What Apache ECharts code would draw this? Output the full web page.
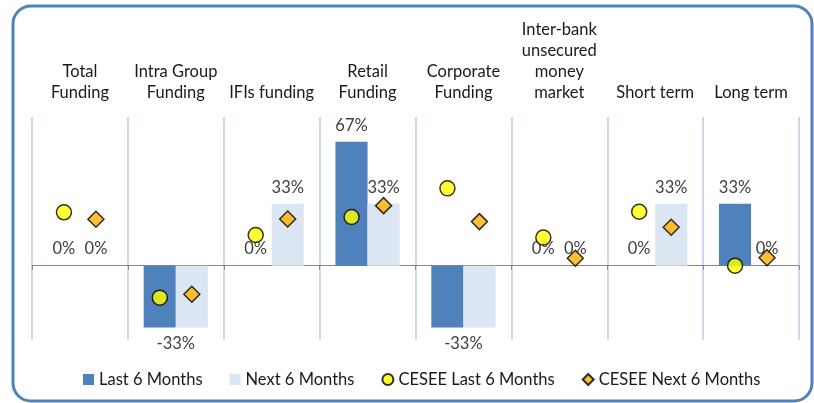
<!DOCTYPE html>
<html>
<head>
<meta charset="utf-8">
<script src="https://cdn.jsdelivr.net/npm/echarts@6/dist/echarts.min.js"></script>
<style>
  html, body { margin: 0; padding: 0; background: #fff; }
  #chart { width: 814px; height: 403px; }
</style>
</head>
<body>
<div id="chart"></div>
<script>
const categories = ['Total\nFunding', 'Intra Group\nFunding', 'IFIs funding', 'Retail\nFunding',
  'Corporate\nFunding', 'Inter-bank\nunsecured\nmoney\nmarket', 'Short term', 'Long term'];
const last6 = [0, -33.33, 0, 66.67, -33.33, 0, 0, 33.33];
const next6 = [0, -33.33, 33.33, 33.33, -33.33, 0, 33.33, 0];
const ceseeLast = [28.7, -17.2, 16.5, 26.2, 41.6, 15.1, 29, 0];
const ceseeNext = [25, -15.4, 25.1, 32.3, 23.7, 4, 20.7, 4.3];

const FONT = 'Lato';
const pct = v => Math.round(v) + '%';

// negative bars get one label under the pair, zeros/positives sit on top
const barData = (vals, showNeg) => vals.map(v => ({
  value: v,
  label: v < 0
    ? { show: showNeg, position: 'bottom', offset: [16, 0] }
    : { show: true, position: 'top' }
}));

const chart = echarts.init(document.getElementById('chart'));

chart.setOption({
  animation: false,
  textStyle: { fontFamily: FONT },
  grid: { left: 32, right: 15, top: 117, bottom: 63 },
  xAxis: [
    {
      type: 'category',
      data: categories,
      position: 'top',
      axisLine: { show: false, onZero: false },
      axisTick: { show: false },
      axisLabel: { interval: 0, color: '#1a1a1a', fontSize: 16.5, lineHeight: 21, margin: 14, fontFamily: FONT },
      splitLine: { show: true, interval: 0, lineStyle: { color: '#B9CDE8', width: 1.5 } }
    },
    {
      type: 'category',
      data: categories,
      position: 'bottom',
      axisLine: { show: true, onZero: true, lineStyle: { color: '#868686', width: 1 } },
      axisTick: { show: true, interval: 0, length: 4, lineStyle: { color: '#868686' } },
      axisLabel: { show: false },
      splitLine: { show: false }
    }
  ],
  yAxis: { type: 'value', min: -40, max: 80, show: false },
  legend: {
    left: 78,
    top: 366,
    itemWidth: 11,
    itemHeight: 11,
    itemGap: 27,
    textStyle: { fontSize: 16.5, color: '#1a1a1a', fontFamily: FONT },
    data: [
      { name: 'Last 6 Months', icon: 'rect' },
      { name: 'Next 6 Months', icon: 'rect' },
      { name: 'CESEE Last 6 Months', icon: 'circle' },
      { name: 'CESEE Next 6 Months', icon: 'diamond' }
    ]
  },
  graphic: [{
    type: 'rect',
    shape: { x: 13, y: 6, width: 799, height: 395, r: 18 },
    style: { fill: 'none', stroke: '#4F81BD', lineWidth: 3 },
    z: 100
  }],
  series: [
    {
      name: 'Last 6 Months',
      type: 'bar',
      data: barData(last6, true),
      barGap: '0%',
      barCategoryGap: '33%',
      itemStyle: { color: '#4F81BD' },
      label: { distance: 8, fontSize: 16.5, color: '#404040', formatter: p => pct(p.value) }
    },
    {
      name: 'Next 6 Months',
      type: 'bar',
      data: barData(next6, false),
      itemStyle: { color: '#DCE6F2' },
      label: { distance: 8, fontSize: 16.5, color: '#404040', formatter: p => pct(p.value) }
    },
    {
      name: 'CESEE Last 6 Months',
      type: 'scatter',
      data: ceseeLast,
      symbol: 'circle',
      symbolSize: 15,
      symbolOffset: [-16, 0],
      itemStyle: { color: '#FFFF00', borderColor: '#000', borderWidth: 1.5 },
      z: 5
    },
    {
      name: 'CESEE Next 6 Months',
      type: 'scatter',
      data: ceseeNext,
      symbol: 'diamond',
      symbolSize: 16,
      symbolOffset: [16, 0],
      itemStyle: { color: '#FFB000', borderColor: '#000', borderWidth: 1.5 },
      z: 5
    }
  ]
});
</script>
</body>
</html>
